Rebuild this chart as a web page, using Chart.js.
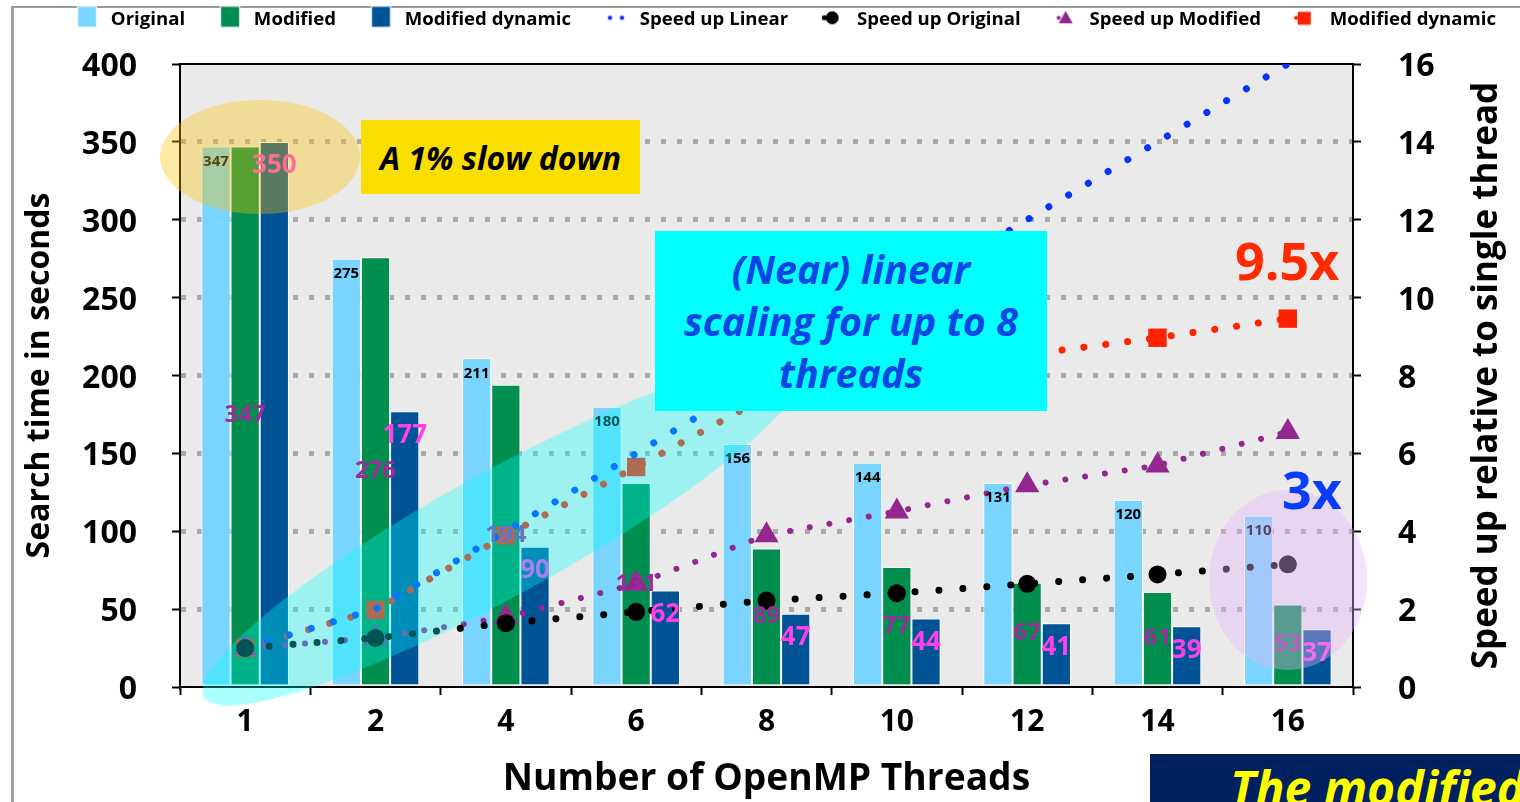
<!DOCTYPE html>
<html>
<head>
<meta charset="utf-8">
<script src="https://cdn.jsdelivr.net/npm/chart.js@4.4.1/dist/chart.umd.min.js"></script>
<style>
  html, body { margin: 0; padding: 0; background: #fff; }
  #wrap { position: relative; width: 1520px; height: 802px; overflow: hidden; font-family: "Open Sans", sans-serif; }
  .frame { position: absolute; left: 11px; top: 6px; width: 1700px; height: 1000px; border-left: 3px solid #a3a3a3; border-top: 2px solid #9a9a9a; }
  #chart { position: absolute; left: 0; top: 0; }
  .shape { position: absolute; pointer-events: none; }
  .ellipse { border-radius: 50%; }
  .note { display: flex; align-items: center; justify-content: center; text-align: center; font-weight: 700; font-style: italic; }
  .big { position: absolute; line-height: 1; font-weight: 700; white-space: nowrap; }
</style>
</head>
<body>
<div id="wrap">
  <div class="frame"></div>
  <canvas id="chart" width="1520" height="802" style="width:1520px;height:802px"></canvas>

  <!-- highlight around the single-thread bars -->
  <div class="shape ellipse" style="left:160px;top:100px;width:200px;height:114px;background:rgba(255,192,0,0.35)"></div>
  <!-- band over the near-linear region -->
  <div class="shape ellipse" style="left:162px;top:471px;width:680px;height:124px;background:rgba(0,255,255,0.33);transform:rotate(-28.8deg)"></div>
  <!-- highlight around 16 threads -->
  <div class="shape ellipse" style="left:1209px;top:490px;width:158px;height:180px;background:rgba(230,180,250,0.38)"></div>

  <div class="shape note" style="left:361px;top:120px;width:279px;height:74px;background:#fade00;color:#000;font-size:32px;">A 1% slow down</div>
  <div class="shape note" style="left:655px;top:231px;width:392px;height:180px;background:#00ffff;color:#0a46e6;font-size:39.5px;line-height:52px;">(Near) linear<br>scaling for up to 8<br>threads</div>

  <div class="big" style="left:1235px;top:234px;font-size:52px;color:#ff2a00;">9.5x</div>
  <div class="big" style="left:1282px;top:463px;font-size:52px;color:#0a3cff;">3x</div>

  <div class="shape" style="left:1150px;top:754px;width:400px;height:60px;background:#002060;"></div>
  <div class="big" style="left:1230px;top:764px;font-size:48px;font-style:italic;color:#ffff00;">The modified</div>
</div>

<script>
// Thread counts on the x axis
const threads = ['1', '2', '4', '6', '8', '10', '12', '14', '16'];

// Search time in seconds
const timeOriginal = [347, 275, 211, 180, 156, 144, 131, 120, 110];
const timeModified = [347, 276, 194, 131, 89, 77, 67, 61, 53];
const timeDynamic  = [350, 177, 90, 62, 47, 44, 41, 39, 37];

// Speed up relative to a single thread
const speedLinear   = [1, 2, 4, 6, 8, 10, 12, 14, 16];
const speedOriginal = [1.0, 1.26, 1.64, 1.93, 2.22, 2.41, 2.65, 2.89, 3.15];
const speedModified = [1.0, 1.26, 1.79, 2.65, 3.9, 4.51, 5.18, 5.69, 6.55];
const speedDynamic  = [1.0, 1.98, 3.89, 5.65, 7.45, 7.95, 8.54, 8.97, 9.46];

// Axis ticks
const timeTicks  = [0, 50, 100, 150, 200, 250, 300, 350, 400];
const speedTicks = [0, 2, 4, 6, 8, 10, 12, 14, 16];

const C = {
  original: '#79d5fd',
  modified: '#008f4f',
  dynamic: '#005495',
  linear: '#0433ff',
  spOrig: '#000000',
  spMod: '#93278f',
  spDyn: '#ff2200'
};

Chart.defaults.font.family = '"Open Sans", sans-serif';
Chart.defaults.color = '#000';

// Small legend glyphs
function icon(draw) {
  const c = document.createElement('canvas');
  c.width = 60; c.height = 30;
  draw(c.getContext('2d'));
  return c;
}
function dot(g, x, y, r, col) { g.fillStyle = col; g.beginPath(); g.arc(x, y, r, 0, Math.PI * 2); g.fill(); }
const boxIcon = col => icon(g => {
  g.fillStyle = '#fff'; g.fillRect(30.25, 1.5, 20, 22);
  g.fillStyle = col; g.fillRect(31.25, 2.5, 18, 20);
});
const legendIcons = [
  boxIcon(C.original),
  boxIcon(C.modified),
  boxIcon(C.dynamic),
  icon(g => { dot(g, 34.25, 13.5, 2.2, C.linear); dot(g, 46.25, 13.5, 2.2, C.linear); }),
  icon(g => { dot(g, 31.25, 13.5, 2.5, C.spOrig); dot(g, 39.25, 13.5, 6.5, C.spOrig); }),
  icon(g => {
    dot(g, 33.25, 13.5, 2, C.spMod);
    g.fillStyle = C.spMod; g.beginPath();
    g.moveTo(40.25, 6.5); g.lineTo(47.25, 19); g.lineTo(33.25, 19); g.closePath(); g.fill();
  }),
  icon(g => { dot(g, 30.25, 13.5, 2, C.spDyn); g.fillStyle = C.spDyn; g.fillRect(32, 7.5, 13, 13); })
];

// Values printed on the bars
const barLabels = {
  id: 'barLabels',
  afterDatasetsDraw(chart) {
    const ctx = chart.ctx;
    ctx.save();
    ctx.textAlign = 'center';
    ctx.textBaseline = 'middle';
    chart.data.datasets.forEach((ds, i) => {
      const st = ds.valueLabel;
      if (!st) return;
      ctx.font = 'bold ' + st.size + 'px "Open Sans"';
      ctx.fillStyle = st.color;
      chart.getDatasetMeta(i).data.forEach((bar, j) => {
        const y = st.anchor === 'center' ? (bar.y + bar.base) / 2 : bar.y + st.offset;
        ctx.fillText(String(ds.data[j]), bar.x, y);
      });
    });
    ctx.restore();
  }
};

// Grey plot background
const plotBg = {
  id: 'plotBg',
  beforeDraw(chart) {
    const a = chart.chartArea, ctx = chart.ctx;
    ctx.save();
    ctx.fillStyle = '#eaeaea';
    ctx.fillRect(a.left, a.top, a.right - a.left, a.bottom - a.top);
    ctx.restore();
  }
};

// Right axis title, read from bottom to top
const rightTitle = {
  id: 'rightTitle',
  afterDraw(chart, args, opts) {
    const ctx = chart.ctx, a = chart.chartArea;
    ctx.save();
    ctx.font = 'bold ' + opts.size + 'px "Open Sans"';
    ctx.fillStyle = '#000';
    ctx.textAlign = 'center';
    ctx.textBaseline = 'alphabetic';
    ctx.translate(opts.x, (a.top + a.bottom) / 2);
    ctx.rotate(-Math.PI / 2);
    ctx.fillText(opts.text, 0, 0);
    ctx.restore();
  }
};

const dotted = (color, width, gap) => ({
  borderColor: color, backgroundColor: color,
  borderWidth: width, borderDash: [0.01, gap], borderCapStyle: 'round',
  pointBackgroundColor: color, pointBorderColor: color, pointBorderWidth: 0,
  tension: 0, fill: false, yAxisID: 'y1'
});

new Chart(document.getElementById('chart'), {
  data: {
    labels: threads,
    datasets: [
      { type: 'bar', label: 'Original', data: timeOriginal, backgroundColor: C.original,
        borderColor: '#fff', borderWidth: 1, yAxisID: 'y', order: 5,
        valueLabel: { size: 15, color: '#000', anchor: 'end', offset: 15 } },
      { type: 'bar', label: 'Modified', data: timeModified, backgroundColor: C.modified,
        borderColor: '#fff', borderWidth: 1, yAxisID: 'y', order: 6,
        valueLabel: { size: 24, color: '#9b2d9b', anchor: 'center' } },
      { type: 'bar', label: 'Modified dynamic', data: timeDynamic, backgroundColor: C.dynamic,
        borderColor: '#fff', borderWidth: 1, yAxisID: 'y', order: 7,
        valueLabel: { size: 26, color: '#ff40e6', anchor: 'end', offset: 24 } },
      Object.assign({ type: 'line', label: 'Speed up Linear', data: speedLinear, pointRadius: 0, order: 3 },
        dotted(C.linear, 7, 23)),
      Object.assign({ type: 'line', label: 'Speed up Original', data: speedOriginal, pointStyle: 'circle', pointRadius: 9, order: 1 },
        dotted(C.spOrig, 7, 24)),
      Object.assign({ type: 'line', label: 'Speed up Modified', data: speedModified, pointStyle: 'triangle', pointRadius: 14, order: 2 },
        dotted(C.spMod, 6, 20)),
      Object.assign({ type: 'line', label: 'Modified dynamic', data: speedDynamic, pointStyle: 'rect', pointRadius: 13, order: 4 },
        dotted(C.spDyn, 7, 22))
    ]
  },
  options: {
    responsive: false,
    animation: false,
    events: [],
    layout: { padding: { left: 0, right: -28, top: 0, bottom: 0 } },
    datasets: { bar: { categoryPercentage: 0.672, barPercentage: 1.0 } },
    plugins: {
      tooltip: { enabled: false },
      legend: {
        position: 'top',
        labels: {
          usePointStyle: true,
          pointStyleWidth: 49.5,
          boxHeight: 19,
          padding: 10,
          color: '#000',
          font: { size: 18.6, weight: 'bold' },
          generateLabels: chart => chart.data.datasets.map((ds, i) => ({
            text: ds.label, pointStyle: legendIcons[i], fillStyle: '#000', strokeStyle: '#000',
            lineWidth: 0, hidden: false, datasetIndex: i
          }))
        }
      },
      rightTitle: { text: 'Speed up relative to single thread', size: 35, x: 1497 }
    },
    scales: {
      x: {
        type: 'category',
        position: 'bottom',
        offset: true,
        grid: { offset: true, drawOnChartArea: false, tickLength: 8, tickColor: '#000', tickWidth: 2 },
        border: { color: '#000', width: 2 },
        ticks: { font: { size: 30, weight: 'bold' }, color: '#000', padding: 9, maxRotation: 0 },
        title: { display: true, text: 'Number of OpenMP Threads', font: { size: 37.2, weight: 'bold' }, color: '#000', padding: { top: 0, bottom: 0 } },
        afterFit: s => { s.height = 115; }
      },
      xTop: {
        type: 'category',
        position: 'top',
        grid: { display: false },
        ticks: { display: false },
        border: { color: '#000', width: 2 },
        afterFit: s => { s.height = Math.max(0, 64 - (s.chart.legend ? s.chart.legend.height : 39)); }
      },
      y: {
        type: 'linear',
        position: 'left',
        min: 0, max: 400,
        afterBuildTicks: s => { s.ticks = timeTicks.map(v => ({ value: v })); },
        grid: {
          color: c => (c.tick && (c.tick.value === 0 || c.tick.value === 400)) ? 'rgba(0,0,0,0)' : '#a9a9a9',
          lineWidth: 5, tickColor: '#000', tickLength: 8, tickWidth: 2
        },
        border: { color: '#000', width: 2, dash: [5, 11] },
        ticks: { font: { size: 32, weight: 'bold' }, color: '#000', padding: 35, labelOffset: 3 },
        title: { display: true, text: 'Search time in seconds', font: { size: 32, weight: 'bold' }, color: '#000', padding: { top: 21, bottom: 0 } },
        afterFit: s => { s.width = 180; }
      },
      y1: {
        type: 'linear',
        position: 'right',
        min: 0, max: 16,
        afterBuildTicks: s => { s.ticks = speedTicks.map(v => ({ value: v })); },
        grid: { drawOnChartArea: false, tickColor: '#000', tickLength: 8, tickWidth: 2 },
        border: { color: '#000', width: 2 },
        ticks: { font: { size: 32, weight: 'bold' }, color: '#000', padding: 37, labelOffset: 3 },
        afterFit: s => { s.width = 195; }
      }
    }
  },
  plugins: [plotBg, barLabels, rightTitle]
});
</script>
</body>
</html>
